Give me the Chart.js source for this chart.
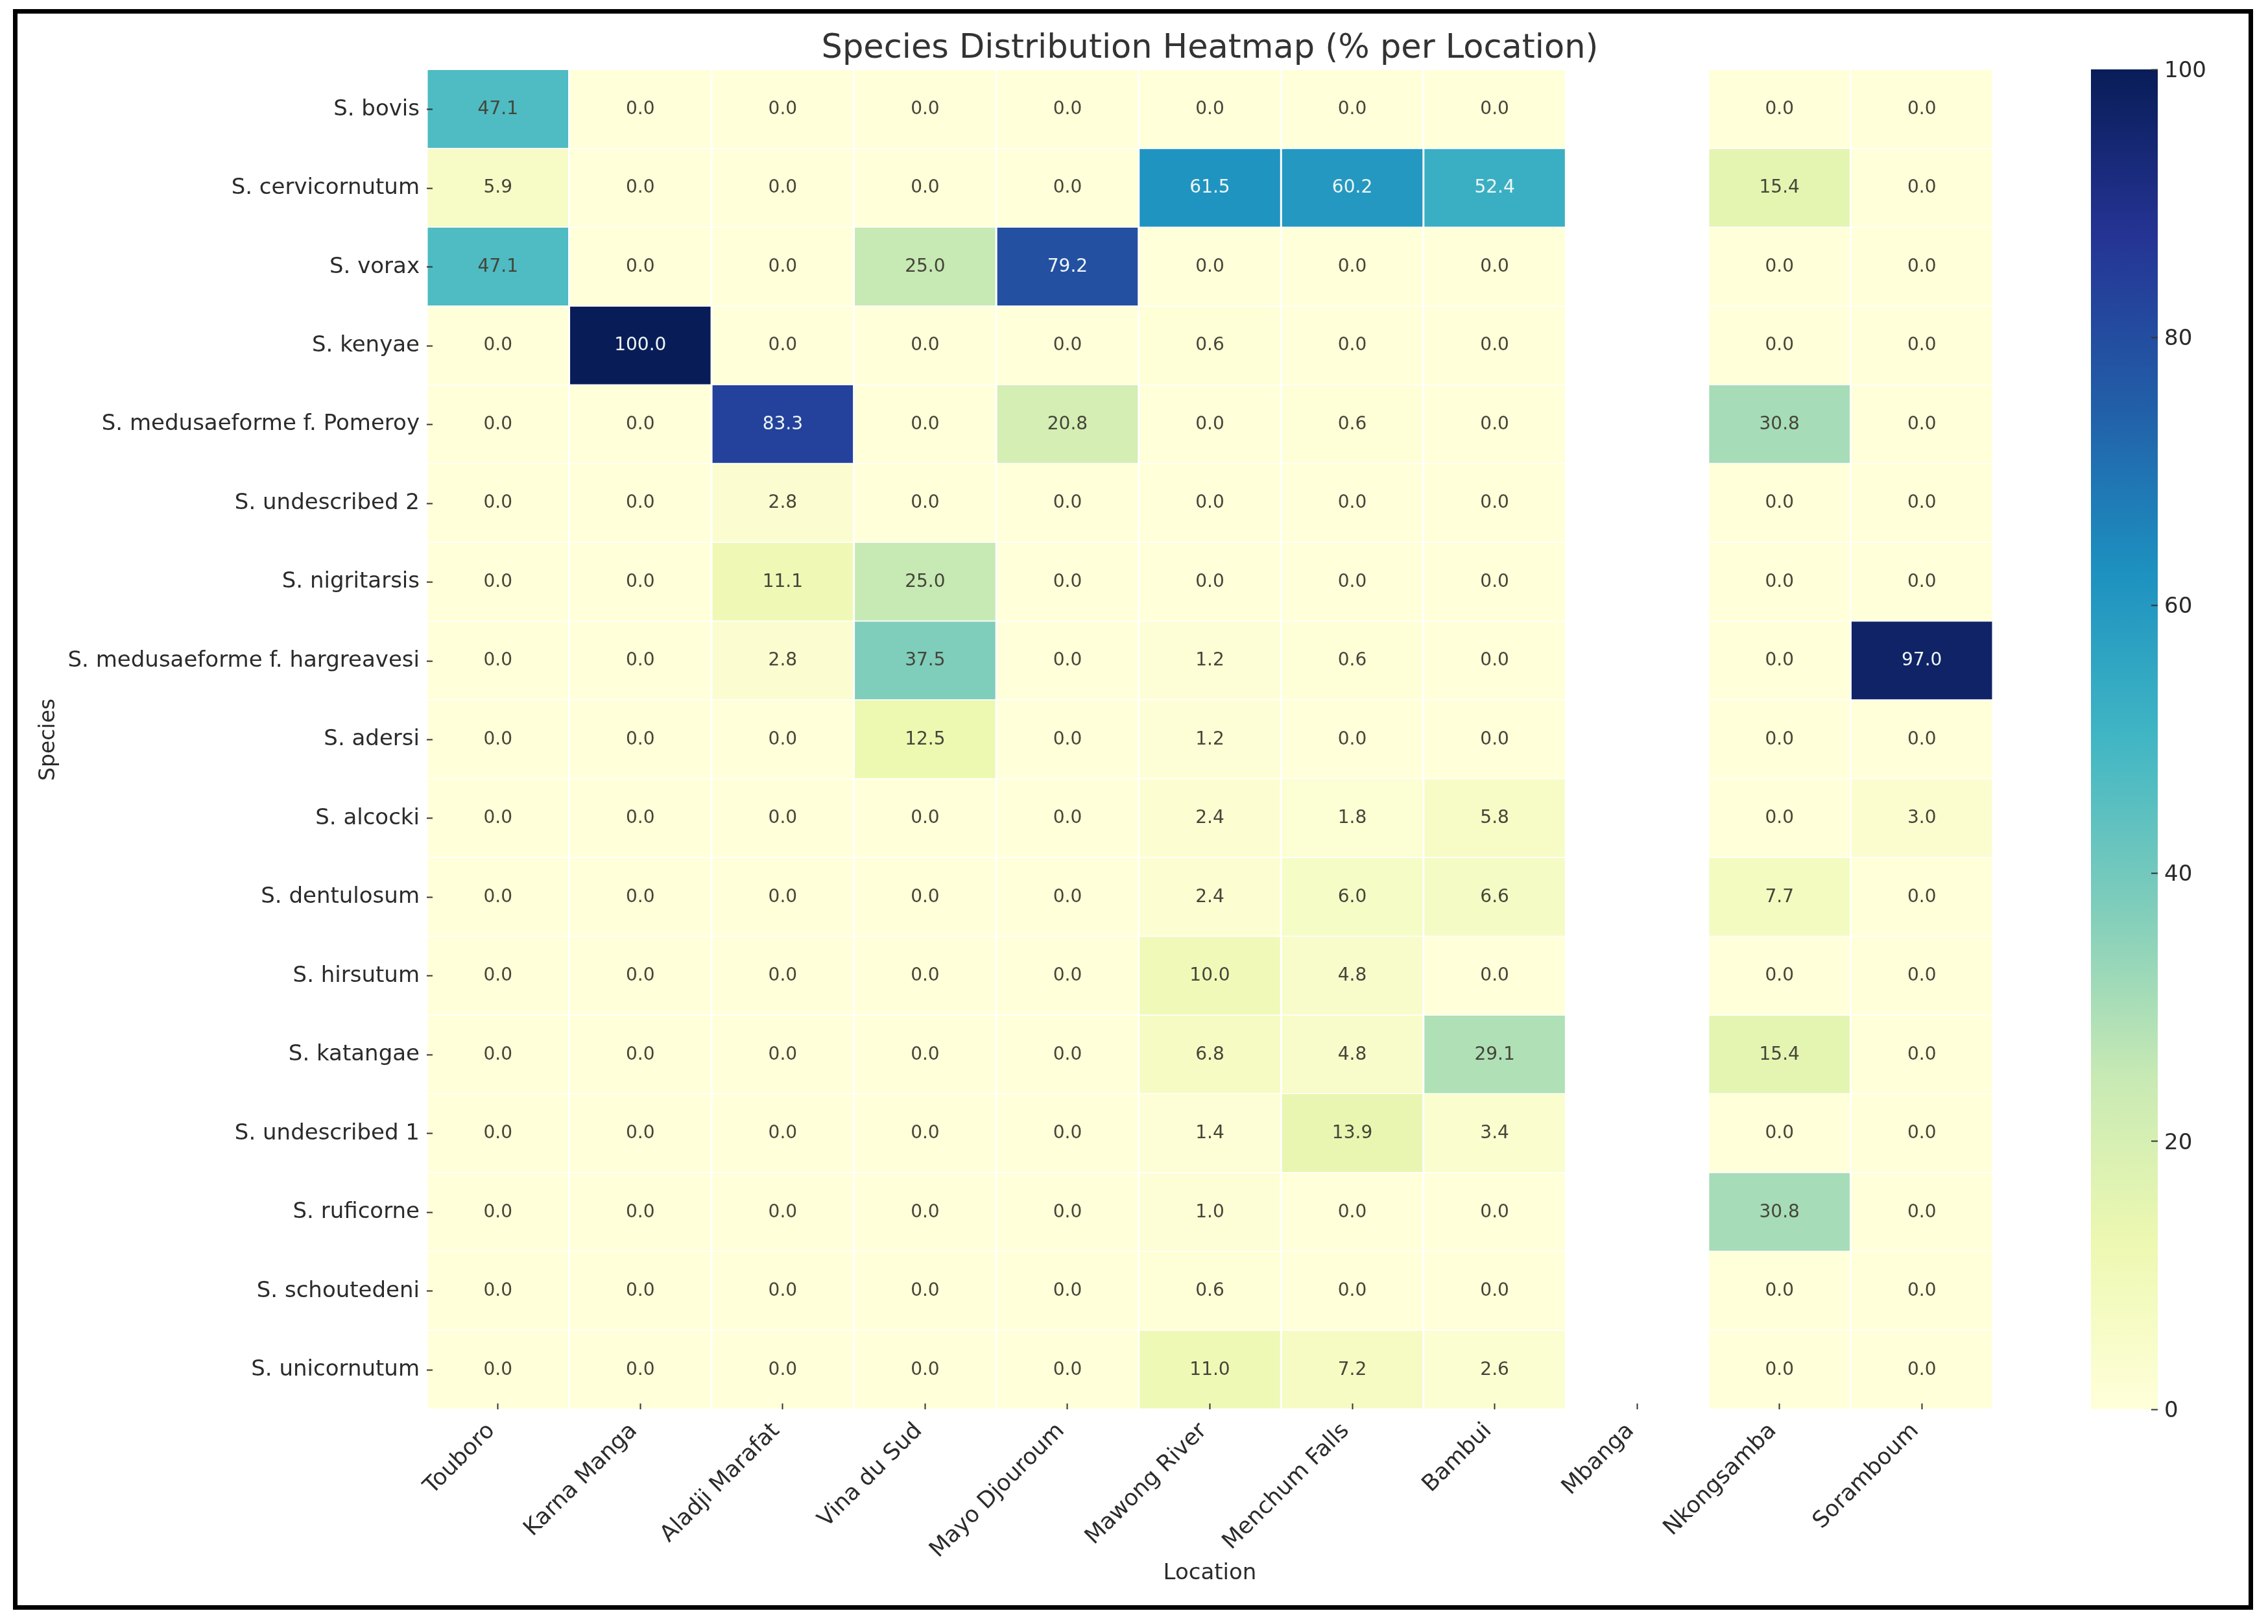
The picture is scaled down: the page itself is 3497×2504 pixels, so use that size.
<!DOCTYPE html>
<html><head><meta charset="utf-8">
<style>
html,body{margin:0;padding:0;background:#fff;width:3497px;height:2504px;overflow:hidden}
canvas{position:absolute;display:block}
#frame{position:absolute;left:20px;top:14px;width:3440px;height:2454px;border:7px solid #000;box-sizing:content-box}
</style>
<script src="https://cdn.jsdelivr.net/npm/chart.js@4"></script>
</head><body>
<canvas id="heat" width="3497" height="2504" style="left:0;top:0"></canvas>
<canvas id="bar" width="274" height="2160" style="left:3200px;top:60px"></canvas>
<div id="frame"></div>
<script>
const titleText = "Species Distribution Heatmap (% per Location)";
const locations = ["Touboro","Karna Manga","Aladji Marafat","Vina du Sud","Mayo Djouroum","Mawong River","Menchum Falls","Bambui","Mbanga","Nkongsamba","Soramboum"];
const species = ["S. bovis","S. cervicornutum","S. vorax","S. kenyae","S. medusaeforme f. Pomeroy","S. undescribed 2","S. nigritarsis","S. medusaeforme f. hargreavesi","S. adersi","S. alcocki","S. dentulosum","S. hirsutum","S. katangae","S. undescribed 1","S. ruficorne","S. schoutedeni","S. unicornutum"];
const bovis       = [47.1,0,0,0,0,0,0,0,null,0,0];
const cervicornutum=[5.9,0,0,0,0,61.5,60.2,52.4,null,15.4,0];
const vorax       = [47.1,0,0,25.0,79.2,0,0,0,null,0,0];
const kenyae      = [0,100,0,0,0,0.6,0,0,null,0,0];
const pomeroy     = [0,0,83.3,0,20.8,0,0.6,0,null,30.8,0];
const undescribed2= [0,0,2.8,0,0,0,0,0,null,0,0];
const nigritarsis = [0,0,11.1,25.0,0,0,0,0,null,0,0];
const hargreavesi = [0,0,2.8,37.5,0,1.2,0.6,0,null,0,97.0];
const adersi      = [0,0,0,12.5,0,1.2,0,0,null,0,0];
const alcocki     = [0,0,0,0,0,2.4,1.8,5.8,null,0,3.0];
const dentulosum  = [0,0,0,0,0,2.4,6.0,6.6,null,7.7,0];
const hirsutum    = [0,0,0,0,0,10.0,4.8,0,null,0,0];
const katangae    = [0,0,0,0,0,6.8,4.8,29.1,null,15.4,0];
const undescribed1= [0,0,0,0,0,1.4,13.9,3.4,null,0,0];
const ruficorne   = [0,0,0,0,0,1.0,0,0,null,30.8,0];
const schoutedeni = [0,0,0,0,0,0.6,0,0,null,0,0];
const unicornutum = [0,0,0,0,0,11.0,7.2,2.6,null,0,0];
const matrix = [bovis,cervicornutum,vorax,kenyae,pomeroy,undescribed2,nigritarsis,hargreavesi,adersi,alcocki,dentulosum,hirsutum,katangae,undescribed1,ruficorne,schoutedeni,unicornutum];
const colorbarTicks = [0,20,40,60,80,100];
const palette = ["#ffffd9","#edf8b1","#c7e9b4","#7fcdbb","#41b6c4","#1d91c0","#225ea8","#253494","#081d58"];

const FONT = "'DejaVu Sans'";
const INK = "#2b2b2b";
function hex(c){return [1,3,5].map(i=>parseInt(c.substr(i,2),16));}
function ylgnbu(v){
  const t = Math.max(0,Math.min(1,v/100))*(palette.length-1);
  const i = Math.min(Math.floor(t),palette.length-2), f=t-i;
  const a=hex(palette[i]), b=hex(palette[i+1]);
  return `rgb(${a.map((x,k)=>Math.round(x+(b[k]-x)*f)).join(",")})`;
}
const cellLabels = {
  id:"cellLabels",
  afterDatasetsDraw(chart){
    const ctx = chart.ctx;
    ctx.save();
    ctx.font = `28px ${FONT}`;
    ctx.textAlign="center"; ctx.textBaseline="middle";
    chart.data.datasets.forEach((ds,r)=>{
      chart.getDatasetMeta(r).data.forEach((el,c)=>{
        const v = matrix[r][c];
        if(v===null) return;
        const p = el.getCenterPoint();
        ctx.fillStyle = v>=50 ? "#eef6f6" : "#45453a";
        ctx.fillText(v.toFixed(1),p.x,p.y);
      });
    });
    ctx.restore();
  }
};
new Chart(document.getElementById("heat"),{
  type:"bar",
  data:{
    labels:locations,
    datasets:species.map((s,r)=>({
      label:s,
      grouped:false,
      data:matrix[r].map(v=>v===null?null:[r,r+1]),
      backgroundColor:c=>ylgnbu(matrix[r][c.dataIndex]),
      borderColor:"#ffffff",
      borderWidth:1.5,
      inflateAmount:0,
      barPercentage:1,
      categoryPercentage:1
    }))
  },
  options:{
    responsive:false,animation:false,devicePixelRatio:1,
    layout:{padding:{left:0,top:0,right:424,bottom:0}},
    plugins:{
      legend:{display:false},tooltip:{enabled:false},
      title:{display:true,text:titleText,fullSize:false,color:"#333333",font:{family:FONT,size:51,weight:"normal",lineHeight:1.2},padding:{top:45,bottom:1.8}}
    },
    scales:{
      x:{
        position:"bottom",offset:true,
        afterFit:s=>{s.height=331;},
        border:{display:false},
        grid:{offset:false,z:1,drawOnChartArea:false,drawTicks:true,tickLength:-9,tickWidth:2,tickColor:"#333333"},
        ticks:{autoSkip:false,minRotation:45,maxRotation:45,padding:22,labelOffset:-10,color:INK,font:{family:FONT,size:35}},
        title:{display:true,text:"Location",color:INK,font:{family:FONT,size:34,lineHeight:1.2},padding:{top:0,bottom:57}}
      },
      y:{
        type:"linear",reverse:true,min:0,max:17,
        afterFit:s=>{s.width=658;},
        afterBuildTicks:s=>{s.ticks=species.map((_,i)=>({value:i+0.5}));},
        border:{display:false},
        grid:{z:1,drawOnChartArea:false,drawTicks:true,tickLength:-9,tickWidth:2,tickColor:"#333333"},
        ticks:{autoSkip:false,padding:20,color:INK,font:{family:FONT,size:34},callback:(v,i)=>species[i]},
        title:{display:true,text:"Species",color:INK,font:{family:FONT,size:33,lineHeight:1.2},padding:{top:56,bottom:0}}
      }
    }
  },
  plugins:[cellLabels]
});
function barGradient(c){
  const a=c.chart.chartArea;
  if(!a) return palette[0];
  const g=c.chart.ctx.createLinearGradient(0,a.bottom,0,a.top);
  palette.forEach((p,i)=>g.addColorStop(i/(palette.length-1),p));
  return g;
}
new Chart(document.getElementById("bar"),{
  type:"bar",
  data:{labels:[""],datasets:[{data:[[colorbarTicks[0],colorbarTicks[colorbarTicks.length-1]]],backgroundColor:barGradient,borderWidth:0,barPercentage:1,categoryPercentage:1}]},
  options:{
    responsive:false,animation:false,devicePixelRatio:1,
    layout:{padding:{left:24,top:47,right:0,bottom:47}},
    plugins:{legend:{display:false},tooltip:{enabled:false}},
    scales:{
      x:{display:false},
      y:{
        position:"right",min:0,max:100,
        afterFit:s=>{s.width=147;},
        afterBuildTicks:s=>{s.ticks=colorbarTicks.map(v=>({value:v}));},
        border:{display:false},
        grid:{z:1,drawOnChartArea:false,drawTicks:true,tickLength:-10,tickWidth:2,tickColor:"#333333"},
        ticks:{padding:20,labelOffset:3,color:INK,font:{family:FONT,size:34}}
      }
    }
  }
});
</script>
</body></html>
